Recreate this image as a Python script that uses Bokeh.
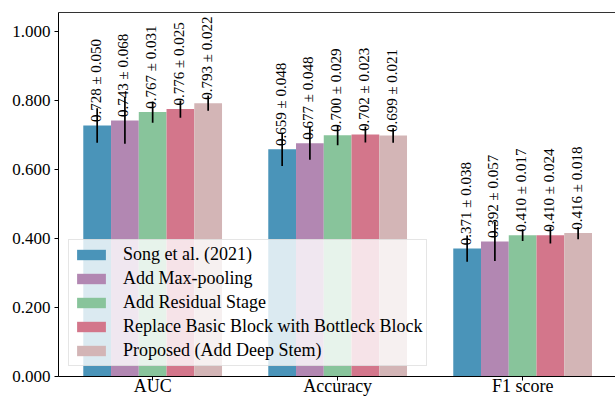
import numpy as np
from bokeh.plotting import figure
from bokeh.models import (Range1d, FixedTicker, NumeralTickFormatter, LinearAxis,
                          Legend, LegendItem, ColumnDataSource)
from bokeh.core.properties import value
from bokeh.embed import file_html
from bokeh.resources import INLINE

# Metrics and model variants
metrics = ["AUC", "Accuracy", "F1 score"]
models = [
    "Song et al. (2021)",
    "Add Max-pooling",
    "Add Residual Stage",
    "Replace Basic Block with Bottleck Block",
    "Proposed (Add Deep Stem)",
]
colors = ["#4a94b9", "#b287b2", "#88c49b", "#d3768b", "#d3b5b6"]

# mean and std per model, ordered as metrics
song_mean = [0.728, 0.659, 0.371]
song_std = [0.050, 0.048, 0.038]
maxpool_mean = [0.743, 0.677, 0.392]
maxpool_std = [0.068, 0.048, 0.057]
residual_mean = [0.767, 0.700, 0.410]
residual_std = [0.031, 0.029, 0.017]
bottleneck_mean = [0.776, 0.702, 0.410]
bottleneck_std = [0.025, 0.023, 0.024]
proposed_mean = [0.793, 0.699, 0.416]
proposed_std = [0.022, 0.021, 0.018]

y_ticks = [0.0, 0.2, 0.4, 0.6, 0.8, 1.0]

means = [song_mean, maxpool_mean, residual_mean, bottleneck_mean, proposed_mean]
stds = [song_std, maxpool_std, residual_std, bottleneck_std, proposed_std]

SERIF = "Times New Roman"
bar_w = 0.15
group_x = np.arange(len(metrics))

p = figure(width=615, height=398, output_backend="svg", toolbar_location=None,
           x_range=Range1d(-0.509, 2.502), y_range=Range1d(0, 1.056),
           min_border_left=58, min_border_right=0, min_border_top=12,
           min_border_bottom=20)
p.outline_line_color = None
p.grid.visible = False
p.background_fill_color = "white"

items = []
for i, (name, col, m, s) in enumerate(zip(models, colors, means, stds)):
    xs = group_x + (i - 2) * bar_w
    m = np.array(m)
    s = np.array(s)
    src = ColumnDataSource(dict(
        x=xs, top=m, lo=m - s, hi=m + s, ty=m + 0.01,
        txt=[f"{a:.3f} \u00b1 {b:.3f}" for a, b in zip(m, s)],
    ))
    r = p.vbar(x="x", top="top", width=bar_w, bottom=0, source=src,
               fill_color=col, line_color=None)
    p.segment(x0="x", x1="x", y0="lo", y1="hi", source=src,
              line_color="black", line_width=1.7)
    p.text(x="x", y="ty", text="txt", source=src, angle=np.pi / 2,
           text_align="left", text_baseline="alphabetic", x_offset=-1.5,
           text_font=value(SERIF), text_font_size="15px", text_color="black")
    items.append(LegendItem(label=name, renderers=[r]))

# left axis
p.yaxis.ticker = FixedTicker(ticks=y_ticks)
p.yaxis.formatter = NumeralTickFormatter(format="0.000")
p.yaxis.major_label_text_font = SERIF
p.yaxis.major_label_text_font_size = "17px"
p.yaxis.major_label_text_color = "black"
p.yaxis.major_tick_out = 4
p.yaxis.major_tick_in = 0
p.yaxis.minor_tick_line_color = None
p.yaxis.major_label_standoff = 4
p.yaxis.axis_line_color = "black"
p.yaxis.axis_line_width = 1

# bottom axis with metric names
p.xaxis.ticker = FixedTicker(ticks=list(group_x))
p.xaxis.major_label_overrides = {int(g): n for g, n in zip(group_x, metrics)}
p.xaxis.major_label_text_font = SERIF
p.xaxis.major_label_text_font_size = "18px"
p.xaxis.major_label_text_color = "black"
p.xaxis.major_tick_out = 4
p.xaxis.major_tick_in = 0
p.xaxis.minor_tick_line_color = None
p.xaxis.axis_line_color = "black"
p.xaxis.axis_line_width = 1
p.xaxis.major_label_standoff = -5

# top spine
top_axis = LinearAxis(ticker=FixedTicker(ticks=[]), major_tick_line_color=None,
                      minor_tick_line_color=None, major_label_text_font_size="0px",
                      axis_line_color="#333333", axis_line_width=1.2)
p.add_layout(top_axis, "above")

legend = Legend(items=items, location=(10, 10), margin=0, padding=4,
                spacing=3, glyph_width=36, glyph_height=13, label_height=19,
                label_standoff=14, label_text_font=SERIF,
                label_text_font_size="18px", label_text_color="black",
                background_fill_color="white", background_fill_alpha=0.8,
                border_line_color="#cccccc", border_line_width=1)
p.add_layout(legend, "center")

open("out.html", "w").write(file_html(p, INLINE))
